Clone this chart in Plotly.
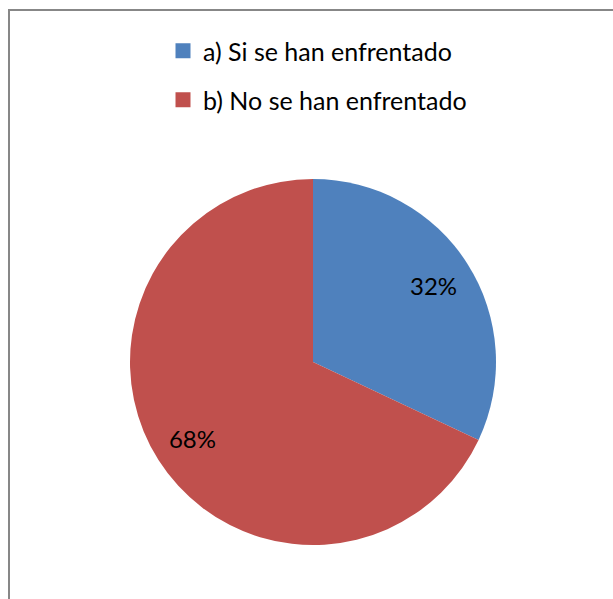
import plotly.graph_objects as go

labels = ["a) Si se han enfrentado", "b) No se han enfrentado"]
values = [32, 68]
colors = ["#4F81BD", "#C0504D"]

W, H = 613, 599
pie_domain = dict(x=[130 / W, 496 / W], y=[1 - 545 / H, 1 - 179 / H])

fig = go.Figure()

# the filled pie itself
fig.add_trace(go.Pie(
    labels=labels,
    values=values,
    sort=False,
    direction="clockwise",
    rotation=0,
    marker=dict(colors=colors),
    textinfo="none",
    showlegend=False,
    hoverinfo="label+percent",
    domain=pie_domain,
))

# transparent ring on top, only to put the % labels out toward the rim
fig.add_trace(go.Pie(
    labels=labels,
    values=values,
    sort=False,
    direction="clockwise",
    rotation=0,
    hole=0.56,
    marker=dict(colors=["rgba(0,0,0,0)"] * 2),
    texttemplate="%{percent:.0%}",
    textposition="inside",
    insidetextorientation="horizontal",
    textfont=dict(size=24, color="black", family="Lato"),
    showlegend=False,
    hoverinfo="skip",
    domain=pie_domain,
))

# legend entries, one legend each so the rows can be spaced like the original
for i, (lab, col) in enumerate(zip(labels, colors)):
    fig.add_trace(go.Scatter(
        x=[None], y=[None],
        mode="markers",
        name=lab,
        marker=dict(symbol="square", size=15, color=col),
        legend="legend" if i == 0 else "legend2",
    ))

legend_style = dict(
    font=dict(size=25, family="Lato", color="black"),
    bgcolor="rgba(0,0,0,0)",
    xanchor="left", yanchor="middle",
    itemwidth=30,
)

fig.update_layout(
    width=W, height=H,
    margin=dict(l=0, r=0, t=0, b=0),
    paper_bgcolor="white",
    plot_bgcolor="white",
    xaxis=dict(visible=False),
    yaxis=dict(visible=False),
    legend=dict(x=163 / W, y=1 - 51 / H, **legend_style),
    legend2=dict(x=163 / W, y=1 - 100 / H, **legend_style),
    shapes=[dict(
        type="rect", xref="paper", yref="paper",
        x0=9 / W, x1=1.02, y0=-0.02, y1=1 - 10 / H,
        line=dict(color="#878787", width=2),
        fillcolor="rgba(0,0,0,0)",
    )],
)

fig.write_html(
    "out.html",
    config={"displayModeBar": False},
    post_script="document.body.style.margin='0';",
)
